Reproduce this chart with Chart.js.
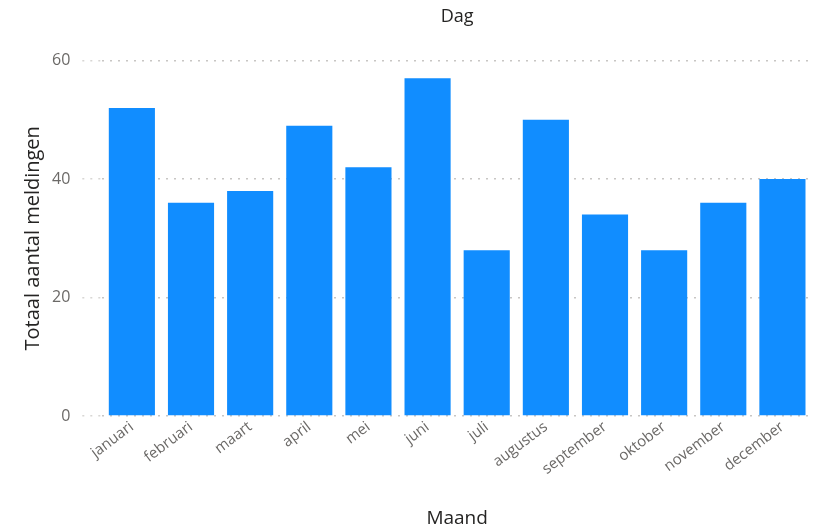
<!DOCTYPE html>
<html>
<head>
<meta charset="utf-8">
<script src="https://cdn.jsdelivr.net/npm/chart.js@4"></script>
<style>
  html, body { margin: 0; padding: 0; background: #fff; }
  #wrap { width: 820px; height: 530px; }
</style>
</head>
<body>
<div id="wrap"><canvas id="chart"></canvas></div>
<script>
const months = ['januari', 'februari', 'maart', 'april', 'mei', 'juni', 'juli', 'augustus', 'september', 'oktober', 'november', 'december'];
const meldingen = [52, 36, 38, 49, 42, 57, 28, 50, 34, 28, 36, 40];
const yTicks = [0, 20, 40, 60];

const font = "'Open Sans', 'Noto Sans', sans-serif";

const ctx = document.getElementById('chart').getContext('2d');
new Chart(ctx, {
    type: 'bar',
    data: {
        labels: months,
        datasets: [{
            label: 'Totaal aantal meldingen',
            data: meldingen,
            backgroundColor: '#118DFF',
            categoryPercentage: 0.78,
            barPercentage: 1
        }]
    },
    options: {
        responsive: true,
        maintainAspectRatio: false,
        animation: false,
        layout: { padding: { top: 3, right: 8, left: 21, bottom: 0 } },
        plugins: {
            legend: { display: false },
            tooltip: { enabled: false },
            title: {
                display: true,
                fullSize: false,
                text: 'Dag',
                color: '#252423',
                font: { family: font, size: 18, weight: 'normal' },
                padding: { top: 3, bottom: 33 }
            }
        },
        scales: {
            x: {
                grid: { display: false },
                border: { display: false },
                ticks: {
                    color: '#6B6967',
                    font: { family: font, size: 15 },
                    minRotation: 37,
                    maxRotation: 37,
                    padding: -6
                },
                title: {
                    display: true,
                    text: 'Maand',
                    color: '#252423',
                    font: { family: font, size: 19 },
                    padding: { top: 35, bottom: 0 }
                }
            },
            y: {
                min: 0,
                max: 60,
                afterBuildTicks: axis => { axis.ticks = yTicks.map(v => ({ value: v })); },
                afterFit: axis => { axis.width -= 5; },
                grid: {
                    color: '#C8C6C4',
                    lineWidth: 1.5,
                    tickLength: 20,
                    tickColor: '#D8D6D4',
                    tickBorderDash: [2, 6],
                    drawTicks: true
                },
                border: { display: false, dash: [2, 6] },
                ticks: {
                    color: '#6B6967',
                    font: { family: font, size: 16 },
                    padding: 12
                },
                title: {
                    display: true,
                    text: 'Totaal aantal meldingen',
                    color: '#252423',
                    font: { family: font, size: 20 },
                    padding: { top: 0, bottom: 0 }
                }
            }
        }
    }
});
</script>
</body>
</html>
